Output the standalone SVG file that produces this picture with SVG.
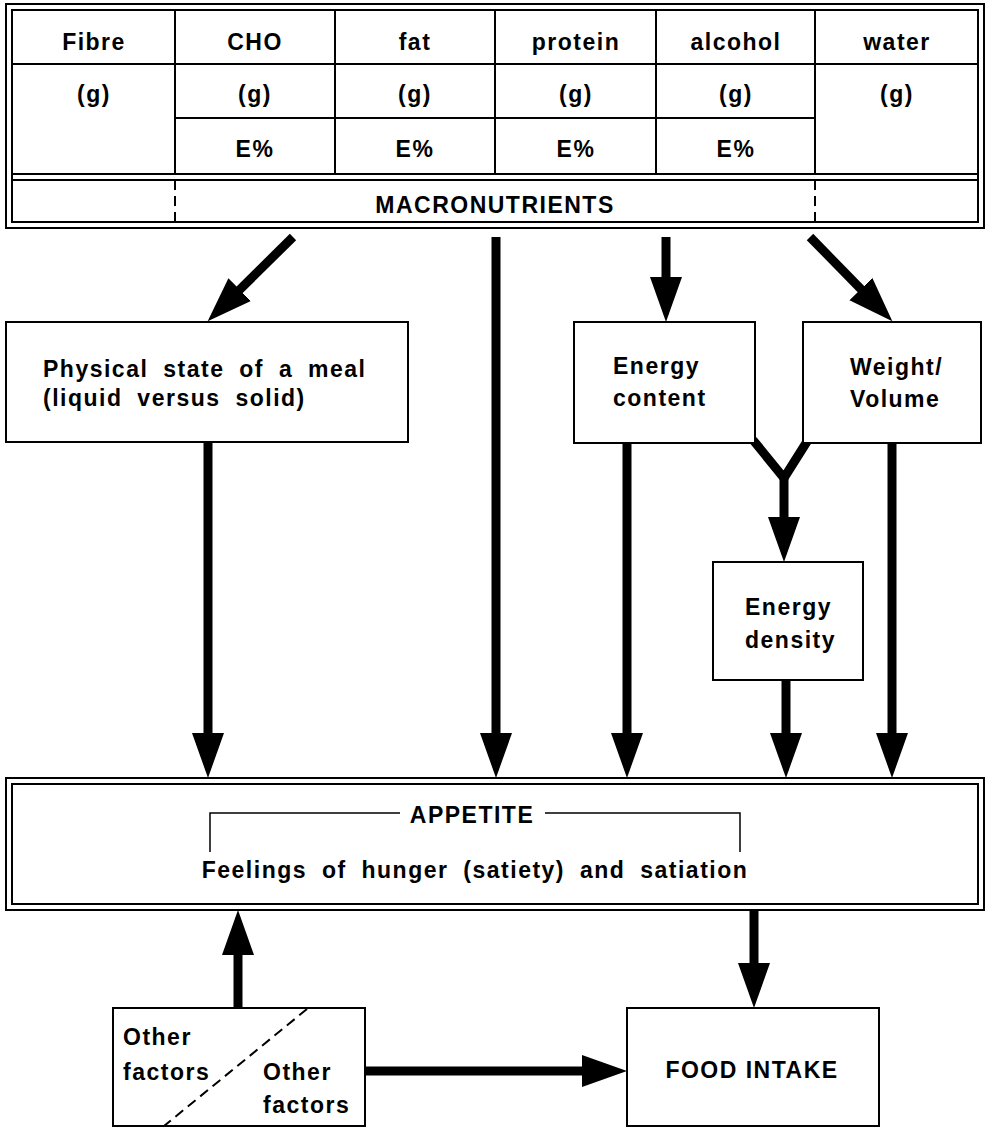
<svg xmlns="http://www.w3.org/2000/svg" width="989" height="1129" viewBox="0 0 989 1129">
<style>
text{font-family:"Liberation Sans",Arial,sans-serif;font-weight:bold;font-size:23px;fill:#000;letter-spacing:1.5px}
.c{text-anchor:middle}
.w{word-spacing:7px}
.box{fill:#fff;stroke:#000;stroke-width:2}
.ln{stroke:#000;stroke-width:2;fill:none}
.dl{stroke:#000;stroke-width:2;fill:none;stroke-dasharray:10 6}
.ar{stroke:#000;stroke-width:9;fill:none;marker-end:url(#ah)}
.th{stroke:#000;stroke-width:9;fill:none}
.br{stroke:#000;stroke-width:1.5;fill:none}
</style>
<defs>
<marker id="ah" markerUnits="userSpaceOnUse" markerWidth="46" markerHeight="34" refX="6" refY="17" orient="auto" viewBox="0 0 46 34">
<path d="M0,1 L45,17 L0,33 z" fill="#000"/>
</marker>
</defs>
<rect width="989" height="1129" fill="#fff"/>

<g id="connectors">
<line class="ar" x1="293" y1="237" x2="235.4" y2="293.9"/>
<line class="ar" x1="496" y1="237" x2="496" y2="739"/>
<line class="ar" x1="666" y1="237" x2="666" y2="283"/>
<line class="ar" x1="810" y1="237" x2="865.1" y2="293.4"/>
<line class="ar" x1="208" y1="442" x2="208" y2="739"/>
<line class="ar" x1="627" y1="443" x2="627" y2="739"/>
<polyline class="th" points="753,440 784,478 808,440"/>
<line class="ar" x1="784" y1="476" x2="784" y2="523"/>
<line class="ar" x1="786" y1="680" x2="786" y2="739"/>
<line class="ar" x1="892" y1="443" x2="892" y2="739"/>
<line class="ar" x1="754" y1="910" x2="754" y2="969"/>
<line class="ar" x1="238" y1="1008" x2="238" y2="949"/>
<line class="ar" x1="365" y1="1071" x2="588" y2="1071"/>
</g>

<g id="macronutrients">
<rect class="box" x="6" y="4" width="978" height="224"/>
<rect class="ln" x="12" y="10" width="966" height="212"/>
<line class="ln" x1="12" y1="64" x2="978" y2="64"/>
<line class="ln" x1="175" y1="118" x2="815" y2="118"/>
<line class="ln" x1="12" y1="174" x2="978" y2="174"/>
<line class="ln" x1="12" y1="180" x2="978" y2="180"/>
<line class="ln" x1="175" y1="10" x2="175" y2="174"/>
<line class="ln" x1="335" y1="10" x2="335" y2="174"/>
<line class="ln" x1="495" y1="10" x2="495" y2="174"/>
<line class="ln" x1="656" y1="10" x2="656" y2="174"/>
<line class="ln" x1="815" y1="10" x2="815" y2="174"/>
<line class="dl" x1="175" y1="180" x2="175" y2="222"/>
<line class="dl" x1="815" y1="180" x2="815" y2="222"/>
<text class="c" x="94" y="50">Fibre</text>
<text class="c" x="255" y="50">CHO</text>
<text class="c" x="415" y="50">fat</text>
<text class="c" x="576" y="50">protein</text>
<text class="c" x="736" y="50">alcohol</text>
<text class="c" x="897" y="50">water</text>
<text class="c" x="94" y="102">(g)</text>
<text class="c" x="255" y="102">(g)</text>
<text class="c" x="415" y="102">(g)</text>
<text class="c" x="576" y="102">(g)</text>
<text class="c" x="736" y="102">(g)</text>
<text class="c" x="897" y="102">(g)</text>
<text class="c" x="255" y="157">E%</text>
<text class="c" x="415" y="157">E%</text>
<text class="c" x="576" y="157">E%</text>
<text class="c" x="736" y="157">E%</text>
<text class="c" x="495" y="213">MACRONUTRIENTS</text>
</g>

<g id="physical-state">
<rect class="box" x="6" y="322" width="402" height="120"/>
<text class="w" x="43" y="377">Physical state of a meal</text>
<text class="w" x="43" y="406">(liquid versus solid)</text>
</g>

<g id="energy-content">
<rect class="box" x="574" y="322" width="181" height="121"/>
<text x="613" y="374">Energy</text>
<text x="613" y="406">content</text>
</g>

<g id="weight-volume">
<rect class="box" x="803" y="322" width="178" height="121"/>
<text x="850" y="375">Weight/</text>
<text x="850" y="407">Volume</text>
</g>

<g id="energy-density">
<rect class="box" x="713" y="562" width="150" height="118"/>
<text x="745" y="615">Energy</text>
<text x="745" y="648">density</text>
</g>

<g id="appetite">
<rect class="box" x="6" y="778" width="978" height="132"/>
<rect class="ln" x="12" y="784" width="966" height="120"/>
<polyline class="br" points="210,852 210,813 400,813"/>
<polyline class="br" points="545,813 740,813 740,852"/>
<text class="c" x="472" y="823">APPETITE</text>
<text class="c w" x="475" y="878">Feelings of hunger (satiety) and satiation</text>
</g>

<g id="other-factors">
<rect class="box" x="113" y="1008" width="252" height="118"/>
<line class="dl" x1="307" y1="1009" x2="164" y2="1126"/>
<text x="123" y="1045">Other</text>
<text x="123" y="1080">factors</text>
<text x="263" y="1080">Other</text>
<text x="263" y="1113">factors</text>
</g>

<g id="food-intake">
<rect class="box" x="627" y="1008" width="252" height="118"/>
<text class="c" x="752" y="1078">FOOD INTAKE</text>
</g>
</svg>
